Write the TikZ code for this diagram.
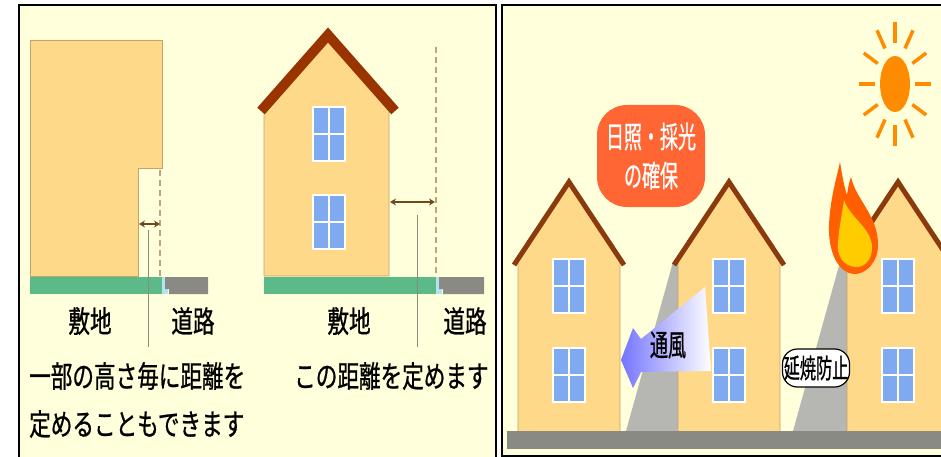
\documentclass[tikz,border=0pt]{standalone}
\usepackage{fontspec}
\newfontfamily\jpfont[FakeStretch=0.72, FakeBold=0.8]{Noto Sans CJK JP}
\newfontfamily\jpnarrow[FakeStretch=0.6, FakeBold=0.8]{Noto Sans CJK JP}
\usepackage{xcolor}
\usetikzlibrary{arrows.meta, positioning}
\definecolor{paper}{HTML}{FFFFDC}
\definecolor{house}{HTML}{FFD98A}
\definecolor{houseline}{HTML}{C4A26C}
\definecolor{roofbrown}{HTML}{993300}
\definecolor{roofdark}{HTML}{8A3A0C}
\definecolor{glass}{HTML}{80AAF0}
\definecolor{lawn}{HTML}{5CBA88}
\definecolor{drain}{HTML}{B4E2F0}
\definecolor{road}{HTML}{8A8A84}
\definecolor{limitline}{HTML}{BCA47C}
\definecolor{dimbrown}{HTML}{6B4A1E}
\definecolor{leadgray}{HTML}{8C8C7C}
\definecolor{shadowgray}{HTML}{B6B6B2}
\definecolor{bubble}{HTML}{FF6633}
\definecolor{sun}{HTML}{FF8C00}
\definecolor{flameout}{HTML}{FF5F00}
\definecolor{flamein}{HTML}{FFCC00}
\definecolor{windblue}{HTML}{7474FF}

\begin{document}
\begin{tikzpicture}[
    x=1pt, y=-1pt,
    >={Stealth[length=6pt, width=7pt]},
    panel/.style={draw=black, line width=1.8pt, fill=paper},
    wall/.style={fill=house, draw=houseline, line width=0.8pt},
    roofline/.style={draw=roofdark, line width=5pt, line join=miter},
    pane/.style={fill=glass, draw=white, line width=1.5pt},
    limit/.style={draw=limitline, line width=1.4pt, dash pattern=on 6pt off 4pt},
    gap/.style={draw=dimbrown, line width=1.4pt, <->},
    leader/.style={draw=leadgray, line width=0.8pt},
    jplabel/.style={font=\jpfont\fontsize{30}{34}\selectfont, text=black, inner sep=0pt},
]
    \useasboundingbox (0,0) rectangle (941,457);
    \clip (0,0) rectangle (941,457);
    \fill[white] (0,0) rectangle (941,457);

    % two panels
    \draw[panel] (19,5) rectangle (496,480);
    \draw[panel] (502,5) rectangle (960,456);

    % --- left panel: stepped block and house ---
    \draw[wall] (30,40) -- (162,40) -- (162,168) -- (138,168) -- (138,276) -- (30,276) -- cycle;
    \draw[wall] (264,276) -- (264,108) -- (328,36) -- (389,108) -- (389,276) -- cycle;
    \draw[roofline, draw=roofbrown, line width=10pt] (261,111) -- (328,35) -- (395,111);

    % ground strips
    \fill[lawn] (30,277) rectangle (162,294);
    \fill[drain] (162,277) rectangle (168,294);
    \fill[road] (165,277) -- (208,277) -- (208,294) -- (169,294) -- (169,289) -- (165,289) -- cycle;
    \fill[lawn] (264,277) rectangle (436,294);
    \fill[drain] (436,277) rectangle (442,294);
    \fill[road] (439,277) -- (484,277) -- (484,294) -- (443,294) -- (443,289) -- (439,289) -- cycle;

    % site limits
    \draw[limit] (160,170) -- (160,276);
    \draw[limit] (436,47) -- (436,276);

    % setback distances
    \coordinate (wallA) at (139,224);
    \coordinate (edgeA) at (160,224);
    \coordinate (wallB) at (390,202);
    \coordinate (edgeB) at (435,202);
    \draw[gap] (wallA) -- (edgeA);
    \draw[gap] (wallB) -- (edgeB);

    % dividers between labels
    \coordinate (topA) at (148,230);
    \coordinate (footA) at (148,347);
    \coordinate (topB) at (417,215);
    \coordinate (footB) at (417,347);
    \draw[leader] (topA) -- (footA);
    \draw[leader] (topB) -- (footB);

    % left panel labels
    \node[jplabel] (siteA) at (90,321) {敷地};
    \node[jplabel] (roadA) at (193,321) {道路};
    \node[jplabel] (siteB) at (349,321) {敷地};
    \node[jplabel] (roadB) at (465,321) {道路};
    \node[jplabel, anchor=west] (noteA) at (29,376) {一部の高さ毎に距離を};
    \node[jplabel, anchor=west] (noteB) at (29,424) {定めることもできます};
    \node[jplabel, anchor=west] (noteC) at (294,376) {この距離を定めます};

    % --- right panel: street of houses ---
    \fill[shadowgray] (626,431) -- (673,262) -- (690,262) -- (690,431) -- cycle;
    \fill[shadowgray] (793,431) -- (840,262) -- (858,262) -- (858,431) -- cycle;
    \foreach \hx in {569,729,898} {
        \draw[wall] (\hx-51,431) -- (\hx-51,262) -- (\hx,184) -- (\hx+51,262) -- (\hx+51,431);
        \draw[roofline] (\hx-55,265) -- (\hx,182) -- (\hx+55,265);
    }
    \fill[road] (507,431) rectangle (941,449);

    % windows
    \foreach \wx/\wy in {313/107, 313/195, 553/259, 553/348, 713/259, 713/348, 882/259, 882/348} {
        \draw[pane] (\wx,\wy) rectangle ++(32,54);
        \draw[white, line width=1.6pt] (\wx+16,\wy) -- ++(0,54) (\wx,\wy+27) -- ++(32,0);
    }

    % fire on the right-hand roof
    \fill[flameout] (853,274) .. controls (838,272) and (828,252) .. (829,225)
        .. controls (830,200) and (836,180) .. (840,162)
        .. controls (842,175) and (844,186) .. (847,195)
        .. controls (848,188) and (849,182) .. (851,177)
        .. controls (856,200) and (878,215) .. (878,245)
        .. controls (878,262) and (866,275) .. (853,274) -- cycle;
    \fill[flamein] (855,267) .. controls (844,266) and (836,256) .. (838,242)
        .. controls (839,228) and (842,214) .. (844,200)
        .. controls (850,218) and (872,228) .. (872,248)
        .. controls (872,260) and (864,268) .. (855,267) -- cycle;

    % sun
    \fill[sun] (895,84) ellipse (15 and 28);
    \foreach \a in {0,30,...,330}
        \draw[sun, line width=3.5pt] ({895+20*sin(\a)},{84-41*cos(\a)}) -- ({895+36*sin(\a)},{84-62*cos(\a)});

    % callouts
    \node[fill=bubble, rounded corners=30pt, minimum width=108pt, minimum height=102pt,
          align=center, text=white, font=\jpnarrow\fontsize{30}{39}\selectfont, inner sep=0pt]
        (light) at (651,156) {日照・採光\\の確保};

    \shade[left color=windblue, right color=white]
        (621,360) -- (633,328) -- (641,339) -- (705,287) -- (711,371) -- (641,372) -- (633,388) -- cycle;
    \node[font=\jpnarrow\fontsize{30}{34}\selectfont, inner sep=0pt] (wind) at (668,345) {通風};

    \node[draw=black, line width=1.2pt, fill=white, rounded corners=15pt, minimum width=67pt,
          minimum height=38pt, inner sep=0pt, font=\jpnarrow\fontsize{27}{30}\selectfont]
        (fire) at (816,368) {延焼防止};
\end{tikzpicture}
\end{document}
